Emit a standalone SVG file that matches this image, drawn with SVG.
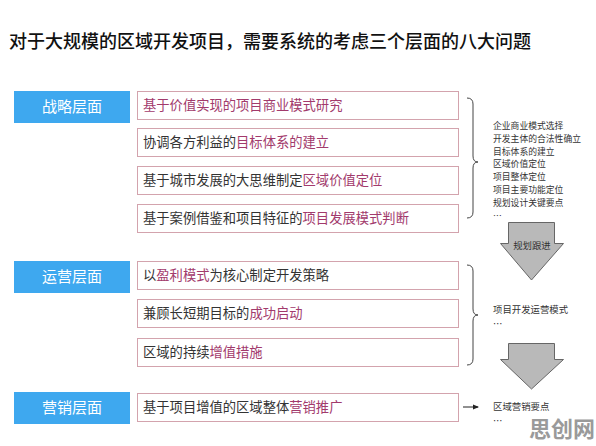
<svg xmlns="http://www.w3.org/2000/svg" width="596" height="446" viewBox="0 0 596 446">
<style>
.title{font-family:"Noto Sans CJK SC",sans-serif;font-size:18px;font-weight:500;fill:#111}
.lvl{fill:#3ea8ef}
.lvlt{font-family:"Noto Sans CJK SC",sans-serif;font-size:15px;fill:#fff;text-anchor:middle}
.box{fill:#fff;stroke:#d3a3ad;stroke-width:1}
.bt{font-family:"Noto Sans CJK SC",sans-serif;font-size:13.3px;fill:#333}
.hl{fill:#a23a6c}
.side{font-family:"Noto Sans CJK SC",sans-serif;font-size:8.8px;fill:#333}
.side2{font-family:"Noto Sans CJK SC",sans-serif;font-size:9.4px;fill:#333}
.brace{fill:none;stroke:#444;stroke-width:1}
.bigarrow{fill:#b9b9b9;stroke:#666;stroke-width:1}
</style>
<defs>
<marker id="ah" markerWidth="6" markerHeight="6" refX="5" refY="3" orient="auto" markerUnits="userSpaceOnUse">
<path d="M0,0.5 L6,3 L0,5.5 Z" fill="#222"/>
</marker>
</defs>
<rect width="596" height="446" fill="#fff"/>
<text class="title" x="9" y="48">对于大规模的区域开发项目，需要系统的考虑三个层面的八大问题</text>

<g id="level-strategy">
<rect class="lvl" x="14" y="91" width="116" height="32"/>
<text class="lvlt" x="72" y="112">战略层面</text>
</g>
<g id="level-operation">
<rect class="lvl" x="14" y="261" width="116" height="32"/>
<text class="lvlt" x="72" y="282">运营层面</text>
</g>
<g id="level-marketing">
<rect class="lvl" x="14" y="392" width="116" height="32"/>
<text class="lvlt" x="72" y="413">营销层面</text>
</g>

<g id="s1"><rect class="box" x="137.5" y="91.5" width="321" height="28"/>
<text class="bt hl" x="143" y="110">基于价值实现的项目商业模式研究</text></g>
<g id="s2"><rect class="box" x="137.5" y="128.5" width="321" height="28"/>
<text class="bt" x="143" y="147">协调各方利益的<tspan class="hl">目标体系的建立</tspan></text></g>
<g id="s3"><rect class="box" x="137.5" y="166.5" width="321" height="28"/>
<text class="bt" x="143" y="185">基于城市发展的大思维制定<tspan class="hl">区域价值定位</tspan></text></g>
<g id="s4"><rect class="box" x="137.5" y="204.5" width="321" height="28"/>
<text class="bt" x="143" y="223">基于案例借鉴和项目特征的<tspan class="hl">项目发展模式判断</tspan></text></g>

<g id="o1"><rect class="box" x="137.5" y="261.5" width="321" height="28"/>
<text class="bt" x="143" y="280">以<tspan class="hl">盈利模式</tspan>为核心制定开发策略</text></g>
<g id="o2"><rect class="box" x="137.5" y="299.5" width="321" height="28"/>
<text class="bt" x="143" y="318">兼顾长短期目标的<tspan class="hl">成功启动</tspan></text></g>
<g id="o3"><rect class="box" x="137.5" y="338.5" width="321" height="28"/>
<text class="bt" x="143" y="357">区域的持续<tspan class="hl">增值措施</tspan></text></g>

<g id="m1"><rect class="box" x="137.5" y="393.5" width="321" height="28"/>
<text class="bt" x="143" y="412">基于项目增值的区域整体<tspan class="hl">营销推广</tspan></text></g>

<g id="connectors">
<path class="brace" d="M467,98 Q473,98 473,104 L473,156 Q473,162 478,162 Q473,162 473,168 L473,212 Q473,218 467,218"/>
<path class="brace" d="M467,265 Q473,265 473,271 L473,309 Q473,315 478,315 Q473,315 473,321 L473,359 Q473,365 467,365"/>
<line x1="463" y1="407" x2="478" y2="407" stroke="#222" stroke-width="1" marker-end="url(#ah)"/>
<path class="bigarrow" d="M508.5,222.5 H554.5 V243.5 H563.5 L531.5,280 L500.5,243.5 H508.5 Z"/>
<path class="bigarrow" d="M508.5,343.5 H554.5 V359.5 H563.5 L531.5,389 L500.5,359.5 H508.5 Z"/>
</g>

<g id="notes-strategy">
<text class="side" x="493" y="129">企业商业模式选择<tspan x="493" dy="12.8">开发主体的合法性确立</tspan><tspan x="493" dy="12.8">目标体系的建立</tspan><tspan x="493" dy="12.8">区域价值定位</tspan><tspan x="493" dy="12.8">项目整体定位</tspan><tspan x="493" dy="12.8">项目主要功能定位</tspan><tspan x="493" dy="12.8">规划设计关键要点</tspan><tspan x="493" dy="12.8">…</tspan></text>
</g>
<g id="arrow-label">
<text class="side2" x="532" y="249" text-anchor="middle" fill="#222">规划跟进</text>
</g>
<g id="notes-operation">
<text class="side2" x="493" y="313">项目开发运营模式<tspan x="493" dy="13.8">…</tspan></text>
</g>
<g id="notes-marketing">
<text class="side2" x="493" y="410">区域营销要点<tspan x="493" dy="13.8">…</tspan></text>
</g>
<text x="529" y="437" font-family="'Noto Sans CJK SC',sans-serif" font-size="22" font-weight="bold" fill="#9a9a9a">思创网</text>
</svg>
